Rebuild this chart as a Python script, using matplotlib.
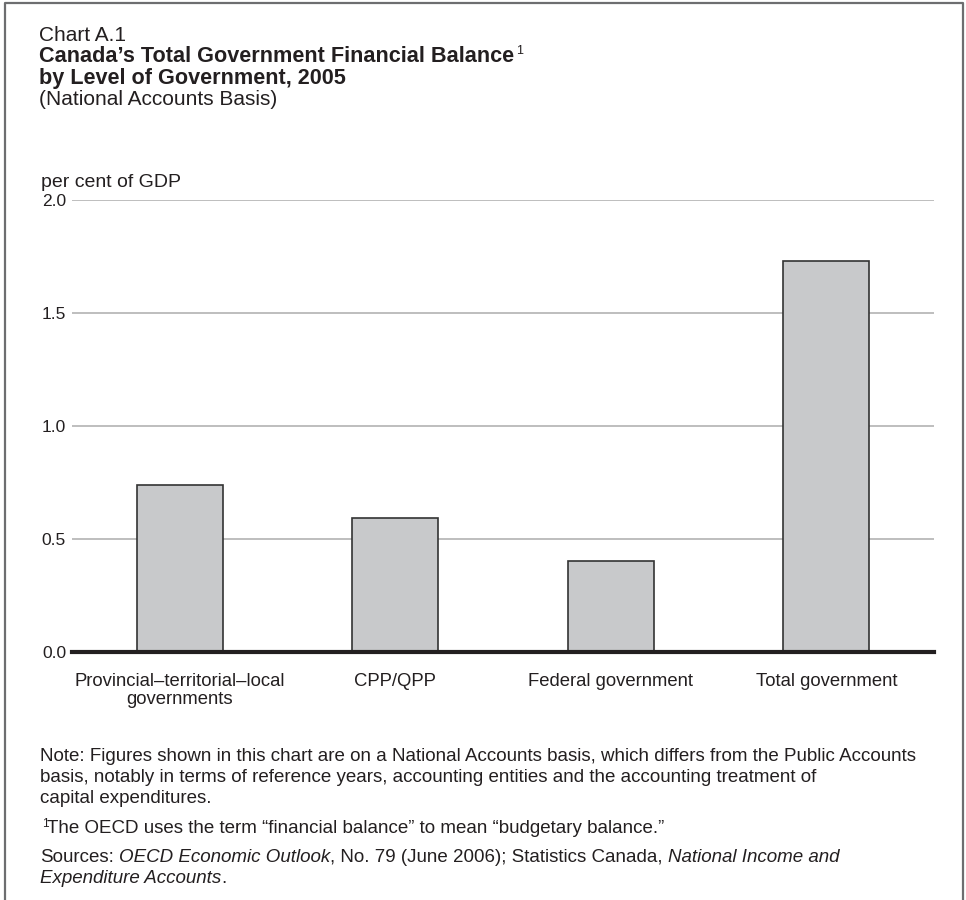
import matplotlib
matplotlib.use("Agg")
import matplotlib.pyplot as plt
from matplotlib.lines import Line2D

plt.rcParams['font.family'] = ['Liberation Sans', 'DejaVu Sans']

# ---- data ----
categories = ["Provincial–territorial–local\ngovernments", "CPP/QPP",
              "Federal government", "Total government"]
values = [0.74, 0.59, 0.40, 1.73]
yticks = [0.0, 0.5, 1.0, 1.5, 2.0]
ytick_labels = ["0.0", "0.5", "1.0", "1.5", "2.0"]

W, H = 966, 900
TXT = '#231f20'
fig = plt.figure(figsize=(W / 100, H / 100), dpi=100)
renderer = fig.canvas.get_renderer()


def fx(x):
    return x / W


def fy(y):
    return 1 - y / H


# ---- axes ----
ax = fig.add_axes([fx(72), fy(651.7), (934 - 72) / W, (651.7 - 200) / H])
xpos = list(range(len(categories)))
ax.bar(xpos, values, width=0.4, color='#c8c9cb', edgecolor='#333333',
       linewidth=1.2, zorder=3)
ax.set_xlim(-0.5, 3.5)
ax.set_ylim(0, 2.0)
ax.set_yticks(yticks)
ax.set_yticklabels(ytick_labels, fontsize=12.5, color=TXT)
ax.set_xticks(xpos)
ax.set_xticklabels(categories, fontsize=13.3, color=TXT, linespacing=1.1)
ax.tick_params(axis='y', length=0, pad=4.3)
ax.tick_params(axis='x', length=0, pad=15)
ax.yaxis.grid(True, color='#b3b3b3', linewidth=1.2, zorder=1)
ax.set_axisbelow(True)
ax.axhline(0, color=TXT, linewidth=3, zorder=5, clip_on=False)
for s in ax.spines.values():
    s.set_visible(False)

# ---- frame ----
fig.add_artist(Line2D([fx(5), fx(5), fx(963), fx(963)],
                      [0, fy(3), fy(3), 0], transform=fig.transFigure,
                      color='#6d6e70', linewidth=1.6))


def space_width(size, **kw):
    a = fig.text(0, 0, "a a", fontsize=size, **kw)
    b = fig.text(0, 0, "aa", fontsize=size, **kw)
    w = a.get_window_extent(renderer).width - b.get_window_extent(renderer).width
    a.remove()
    b.remove()
    return w


def runs(x, y, parts, size):
    cur = x
    for txt, kw in parts:
        lead = len(txt) - len(txt.lstrip(' '))
        trail = len(txt) - len(txt.rstrip(' '))
        core = txt.strip(' ')
        sw = space_width(size, **kw)
        cur += lead * sw
        if core:
            t = fig.text(fx(cur), fy(y), core, fontsize=size, va='baseline',
                         color=TXT, **kw)
            cur += t.get_window_extent(renderer).width
        cur += trail * sw
    return cur


LX = 39
# ---- titles ----
fig.text(fx(LX), fy(41), "Chart A.1", fontsize=15, color=TXT, va='baseline')
t1 = fig.text(fx(LX), fy(62), "Canada’s Total Government Financial Balance",
              fontsize=15.6, fontweight='bold', color=TXT, va='baseline')
x_end = LX + t1.get_window_extent(renderer).width
fig.text(fx(x_end + 2), fy(54), "1", fontsize=9, color=TXT, va='baseline')
fig.text(fx(LX), fy(84), "by Level of Government, 2005",
         fontsize=15.6, fontweight='bold', color=TXT, va='baseline')
fig.text(fx(LX), fy(105), "(National Accounts Basis)", fontsize=15,
         color=TXT, va='baseline')
fig.text(fx(41), fy(187), "per cent of GDP", fontsize=14, color=TXT,
         va='baseline')

# ---- notes ----
NS = 13.5
fig.text(fx(40), fy(761), "Note: Figures shown in this chart are on a National "
         "Accounts basis, which differs from the Public Accounts",
         fontsize=NS, color=TXT, va='baseline')
fig.text(fx(40), fy(782), "basis, notably in terms of reference years, "
         "accounting entities and the accounting treatment of",
         fontsize=NS, color=TXT, va='baseline')
fig.text(fx(40), fy(803), "capital expenditures.", fontsize=NS, color=TXT,
         va='baseline')
fig.text(fx(42), fy(827), "1", fontsize=8.5, color=TXT, va='baseline')
fig.text(fx(47), fy(833), "The OECD uses the term “financial balance” to mean "
         "“budgetary balance.”", fontsize=NS, color=TXT, va='baseline')
runs(40, 862, [("Sources: ", {}),
               ("OECD Economic Outlook", {'style': 'italic'}),
               (", No. 79 (June 2006); Statistics Canada, ", {}),
               ("National Income and", {'style': 'italic'})], NS)
runs(40, 883, [("Expenditure Accounts", {'style': 'italic'}),
               (".", {})], NS)

fig.savefig("out.png", dpi=100)
